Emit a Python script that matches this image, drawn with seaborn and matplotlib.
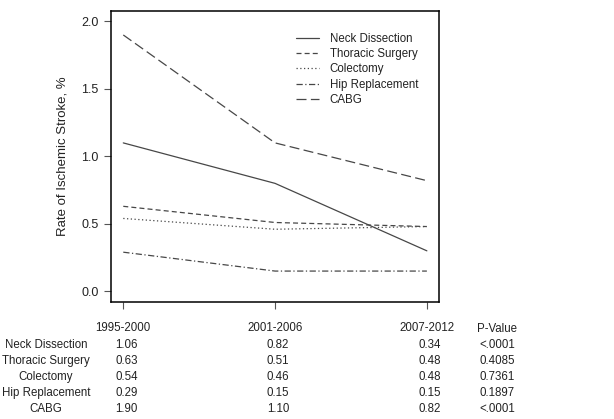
import pandas as pd
import matplotlib
matplotlib.use('Agg')
import matplotlib.pyplot as plt
import matplotlib.transforms as mtransforms
import seaborn as sns

# periods and procedures
periods = ['1995-2000', '2001-2006', '2007-2012']
procedures = ['Neck Dissection', 'Thoracic Surgery', 'Colectomy',
              'Hip Replacement', 'CABG']

# values as drawn in the plot
neck_line = [1.10, 0.80, 0.30]
thoracic_line = [0.63, 0.51, 0.48]
colectomy_line = [0.54, 0.46, 0.48]
hip_line = [0.29, 0.15, 0.15]
cabg_line = [1.90, 1.10, 0.82]

# values printed in the table under the plot
neck_tab = ['1.06', '0.82', '0.34']
thoracic_tab = ['0.63', '0.51', '0.48']
colectomy_tab = ['0.54', '0.46', '0.48']
hip_tab = ['0.29', '0.15', '0.15']
cabg_tab = ['1.90', '1.10', '0.82']
p_values = ['<.0001', '0.4085', '0.7361', '0.1897', '<.0001']

lines = [neck_line, thoracic_line, colectomy_line, hip_line, cabg_line]
table = [neck_tab, thoracic_tab, colectomy_tab, hip_tab, cabg_tab]

# long form data frame for seaborn
rows = []
for name, vals in zip(procedures, lines):
    for i, v in enumerate(vals):
        rows.append({'period': i + 1, 'rate': v, 'procedure': name})
df = pd.DataFrame(rows)

sns.set_style('white')
plt.rcParams['font.family'] = ['Liberation Sans', 'DejaVu Sans']
plt.rcParams['font.size'] = 8

fig = plt.figure(figsize=(6.14, 4.19), dpi=100)
ax = fig.add_axes([0.181, 0.279, 0.534, 0.6955])

dashes = {'Neck Dissection': '',
          'Thoracic Surgery': (4, 2.5),
          'Colectomy': (1, 2),
          'Hip Replacement': (5, 2, 1, 2),
          'CABG': (8, 3.5)}
sns.lineplot(data=df, x='period', y='rate', hue='procedure', style='procedure',
             hue_order=procedures, style_order=procedures,
             palette=['#474747'] * 5, dashes=dashes, linewidth=0.9, ax=ax)

ax.set_xlim(0.92, 3.08)
ax.set_ylim(-0.08, 2.08)
ax.set_yticks([0.0, 0.5, 1.0, 1.5, 2.0])
ax.set_yticklabels(['0.0', '0.5', '1.0', '1.5', '2.0'])
ax.set_xticks([1, 2, 3])
ax.set_xticklabels(periods)
ax.set_xlabel('')
ax.set_ylabel('Rate of Ischemic Stroke, %', fontsize=9.5, color='#222222', labelpad=9)
ax.tick_params(axis='both', direction='out', length=5, width=0.8,
               bottom=True, left=True,
               color='#555555', labelcolor='#222222')
ax.tick_params(axis='x', pad=9, labelsize=8.3)
ax.tick_params(axis='y', pad=4, labelsize=9)
for s in ax.spines.values():
    s.set_color('black')
    s.set_linewidth(1.1)

ax.legend(frameon=False, loc='upper left', bbox_to_anchor=(0.565, 0.925),
          borderaxespad=0, borderpad=0, handlelength=2.0, handletextpad=0.9,
          labelspacing=0.3, fontsize=8.3, labelcolor='#222222')

# table under the plot
tr = mtransforms.blended_transform_factory(ax.transData, fig.transFigure)
fig.text(497 / 614, 1 - 329 / 419, 'P-Value', ha='center', va='center',
         fontsize=8.3, color='#222222')
row_y = [345, 361, 377, 393, 409]
for name, vals, p, y in zip(procedures, table, p_values, row_y):
    fy = 1 - y / 419
    fig.text(46 / 614, fy, name, ha='center', va='center', fontsize=8.3, color='#222222')
    for i, v in enumerate(vals):
        ax.text(i + 1.02, fy, v, transform=tr, ha='center', va='center',
                fontsize=8.3, color='#222222')
    fig.text(497 / 614, fy, p, ha='center', va='center', fontsize=8.3, color='#222222')

fig.savefig('out.png', dpi=100)
